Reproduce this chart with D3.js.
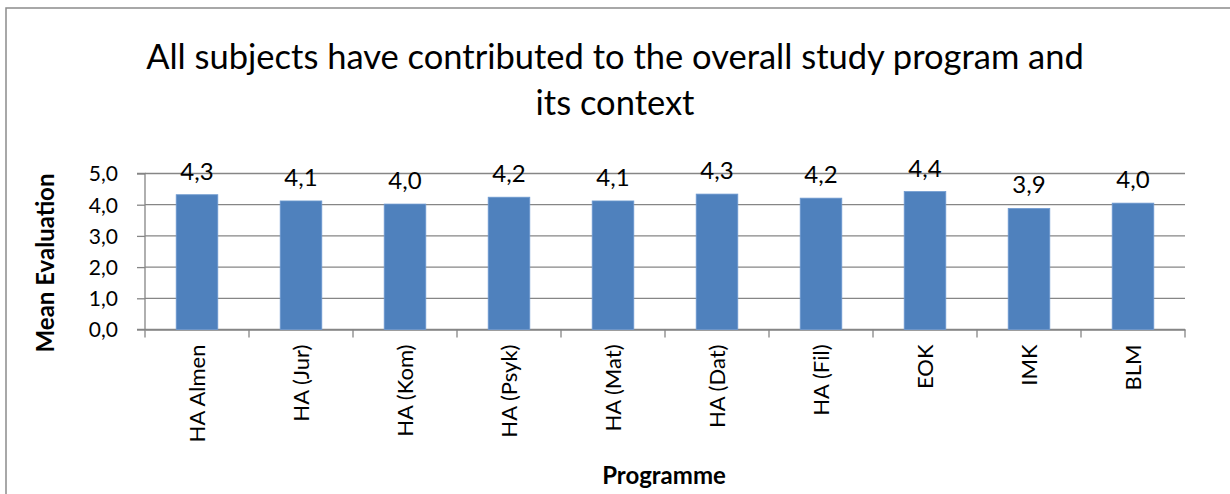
<!DOCTYPE html>
<html><head><meta charset="utf-8">
<script src="https://cdn.jsdelivr.net/npm/d3@7"></script>
<style>body{margin:0;background:#fff}svg{display:block}</style>
</head><body>
<script>
const categories = ["HA Almen","HA (Jur)","HA (Kom)","HA (Psyk)","HA (Mat)","HA (Dat)","HA (Fil)","EOK","IMK","BLM"];
const values = [4.32, 4.12, 4.02, 4.24, 4.12, 4.34, 4.21, 4.42, 3.88, 4.05];
const yTicks = [0,1,2,3,4,5];
const titleLines = ["All subjects have contributed to the overall study program and","its context"];
const yTitle = "Mean Evaluation";
const xTitle = "Programme";

(function(){
const W = 1230, H = 494;
const font = "Lato, 'Open Sans', sans-serif";
const svg = d3.select("body").append("svg").attr("width", W).attr("height", H);
svg.append("rect").attr("x",6).attr("y",8).attr("width",1240).attr("height",500)
  .attr("fill","#fff").attr("stroke","#8c8c8c").attr("stroke-width",1.5);

const pL = 145, pR = 1185, pT = 173.5, pB = 329.5;
const x = d3.scaleBand().domain(categories).range([pL,pR]).paddingInner(0.6).paddingOuter(0.3);
const y = d3.scaleLinear().domain([0,5]).range([pB, pT]);
const fmt = v => d3.format(".1f")(v).replace(".", ",");

svg.append("g").selectAll("line").data(yTicks).join("line")
  .attr("x1",pL).attr("x2",pR).attr("y1",d=>y(d)).attr("y2",d=>y(d))
  .attr("stroke","#868686").attr("stroke-width",1.3);

const ya = svg.append("g").attr("transform",`translate(${pL},0)`)
  .call(d3.axisLeft(y).tickValues(yTicks).tickFormat(fmt).tickSize(8).tickPadding(19));
ya.select(".domain").attr("stroke","#868686").attr("stroke-width",1.3).attr("d",`M-8,${pT}H0V${pB}H-8`);
ya.selectAll(".tick line").attr("stroke","#868686").attr("stroke-width",1.3);
ya.selectAll("text").attr("font-family",font).attr("font-size",21).attr("fill","#000").attr("dy","0.35em");

const xa = svg.append("g").attr("transform",`translate(0,${pB})`)
  .call(d3.axisBottom(x).tickSize(0).tickFormat(d=>d));
xa.select(".domain").attr("stroke","#868686").attr("stroke-width",1.3);
xa.selectAll(".tick text").attr("font-family",font).attr("font-size",22).attr("fill","#000")
  .attr("transform","rotate(-90)").attr("text-anchor","end").attr("x",-15).attr("y",0).attr("dy","0.35em");
const bounds = d3.range(categories.length+1).map(i => pL + i*(pR-pL)/categories.length);
svg.append("g").selectAll("line").data(bounds).join("line")
  .attr("x1",d=>d).attr("x2",d=>d).attr("y1",pB).attr("y2",pB+8)
  .attr("stroke","#868686").attr("stroke-width",1.3);

svg.append("g").selectAll("rect").data(values).join("rect")
  .attr("x",(d,i)=>x(categories[i])).attr("width",x.bandwidth())
  .attr("y",d=>y(d)).attr("height",d=>pB-y(d))
  .attr("fill","#4f81bd").attr("stroke","#6f9ad0").attr("stroke-width",0.8);

svg.append("g").selectAll("text").data(values).join("text")
  .attr("x",(d,i)=>x(categories[i])+x.bandwidth()/2).attr("y",d=>y(d)-15)
  .attr("text-anchor","middle").attr("font-family",font).attr("font-size",24).attr("fill","#000")
  .text(fmt);

svg.append("g").selectAll("text").data(titleLines).join("text")
  .attr("x",615).attr("y",(d,i)=>69+i*46).attr("text-anchor","middle")
  .attr("font-family",font).attr("font-size",34.5).attr("fill","#000").text(d=>d);

svg.append("text").attr("transform",`translate(54,${263}) rotate(-90)`)
  .attr("text-anchor","middle").attr("font-family",font).attr("font-weight","bold")
  .attr("font-size",24).text(yTitle);
svg.append("text").attr("x",664).attr("y",484).attr("text-anchor","middle")
  .attr("font-family",font).attr("font-weight","bold").attr("font-size",24).text(xTitle);
})();
</script>
</body></html>
